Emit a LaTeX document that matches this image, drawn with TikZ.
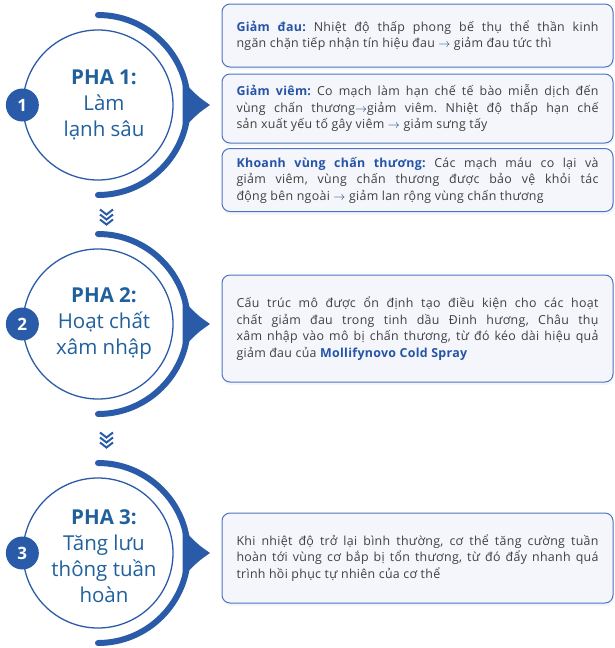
\documentclass[tikz,border=0pt]{standalone}
\usepackage{fontspec}
\setmainfont{Open Sans}
\newfontfamily\boxfont[LetterSpace=2.5]{Open Sans}
\usetikzlibrary{calc,shadows}

\definecolor{mainblue}{HTML}{2A5BA8}
\definecolor{phasetext}{HTML}{20609C}
\definecolor{labelblue}{HTML}{2554A6}
\definecolor{bodytext}{HTML}{404040}
\definecolor{boxfill}{HTML}{F4F6FB}
\definecolor{boxline}{HTML}{4C74C0}

\newcommand{\arr}{{\color{mainblue!70!black}$\rightarrow$}}
\newcommand{\lbl}[1]{{\color{labelblue}\bfseries #1}}
\frenchspacing

\begin{document}
\begin{tikzpicture}[x=1pt,y=-1pt]
    \def\ringrad{90}
    \def\boxx{417.5}
    \tikzstyle{phase}=[circle, draw=mainblue, line width=1.3pt, minimum size=150pt, inner sep=0pt]
    \tikzstyle{phase label}=[text=phasetext, align=center, font=\fontsize{20.5}{26}\selectfont]
    \tikzstyle{badge}=[circle, fill=mainblue, minimum size=33pt, inner sep=0pt, text=white, font=\fontsize{17}{17}\selectfont\bfseries]
    \tikzstyle{ring}=[mainblue, line width=6pt, line cap=round]
    \tikzstyle{chevron}=[mainblue, line width=2pt]
    \tikzstyle{infobox}=[draw=boxline, line width=1pt, fill=boxfill, rounded corners=8pt,
        text width=362pt, inner xsep=14.5pt, align=justify, text=bodytext,
        font=\boxfont\fontsize{12.4}{16.5}\selectfont,
        execute at begin node={\hyphenpenalty10000\relax},
        drop shadow={shadow xshift=1pt, shadow yshift=-3pt, opacity=0.06, fill=mainblue}]

    \useasboundingbox (0,0) rectangle (615,648);

    % Draw the phase circles with their number badges
    \foreach \i/\y in {1/105,2/324,3/553} {
        \node[phase] (P-\i) at (98,\y) {};
        \node[badge] (B-\i) at (P-\i.west) {\i};
    }

    % Draw the outer rings and their pointers
    \foreach \i in {1,2,3} {
        \draw[ring] ($(P-\i)+(0,-\ringrad)$) arc[start angle=-90, end angle=90, radius=\ringrad];
        \fill[mainblue] ($(P-\i)+(-16:88)$) .. controls ($(P-\i)+(-5:100)$) .. ($(P-\i)+(0:112)$)
            .. controls ($(P-\i)+(5:100)$) .. ($(P-\i)+(16:88)$) -- cycle;
    }

    % Phase titles
    \node[phase label] (L-1) at ($(P-1)+(6,0)$) {\textbf{PHA 1:}\\Làm\\lạnh sâu};
    \node[phase label] (L-2) at ($(P-2)+(6,0)$) {\textbf{PHA 2:}\\Hoạt chất\\xâm nhập};
    \node[phase label] (L-3) at ($(P-3)+(6,3)$) {\textbf{PHA 3:}\\Tăng lưu\\thông tuần\\hoàn};

    % Draw the chevrons between the phases
    \foreach \cy in {217,440}
        \foreach \k in {-5,0,5}
            \draw[chevron] (100,\cy+\k-2.5) -- (106.5,\cy+\k+2.5) -- (113,\cy+\k-2.5);

    % Text boxes of phase 1
    \node[infobox, minimum height=63pt] (T-1) at (\boxx,35.5)
        {\lbl{Giảm đau:} Nhiệt độ thấp phong bế thụ thể thần kinh\linebreak
         ngăn chặn tiếp nhận tín hiệu đau \arr{} giảm đau tức thì};
    \node[infobox, minimum height=69pt] (T-2) at (\boxx,108.5)
        {\lbl{Giảm viêm:} Co mạch làm hạn chế tế bào miễn dịch đến\linebreak
         vùng chấn thương\arr giảm viêm. Nhiệt độ thấp hạn chế\linebreak
         sản xuất yếu tố gây viêm \arr{} giảm sưng tấy};
    \node[infobox, minimum height=63pt] (T-3) at (\boxx,180)
        {\lbl{Khoanh vùng chấn thương:} Các mạch máu co lại và\linebreak
         giảm viêm, vùng chấn thương được bảo vệ khỏi tác\linebreak
         động bên ngoài \arr{} giảm lan rộng vùng chấn thương};

    % Text box of phase 2
    \node[infobox, minimum height=107pt] (T-4) at (\boxx,328.5)
        {Cấu trúc mô được ổn định tạo điều kiện cho các hoạt\linebreak
         chất giảm đau trong tinh dầu Đinh hương, Châu thụ\linebreak
         xâm nhập vào mô bị chấn thương, từ đó kéo dài hiệu quả\linebreak
         giảm đau của \lbl{Mollifynovo Cold Spray}};

    % Text box of phase 3
    \node[infobox, minimum height=90pt] (T-5) at (\boxx,558)
        {Khi nhiệt độ trở lại bình thường, cơ thể tăng cường tuần\linebreak
         hoàn tới vùng cơ bắp bị tổn thương, từ đó đẩy nhanh quá\linebreak
         trình hồi phục tự nhiên của cơ thể};
\end{tikzpicture}
\end{document}
